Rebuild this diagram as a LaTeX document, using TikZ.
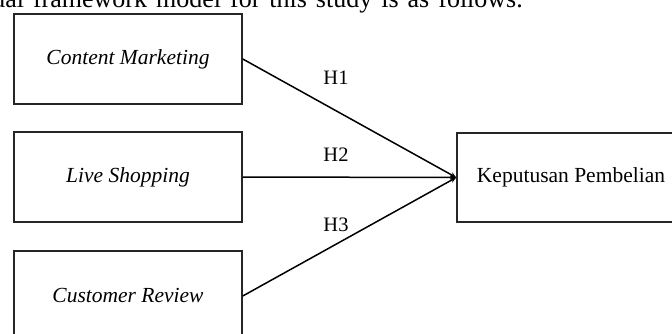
\documentclass[tikz,border=0pt]{standalone}
\usepackage{fontspec}
\setmainfont{Liberation Serif}
\usetikzlibrary{arrows.meta}
\begin{document}
\begin{tikzpicture}[x=1pt,y=-1pt,
  varbox/.style={draw=black!85, line width=1.5pt, minimum width=228pt, minimum height=90pt, inner sep=0pt, font=\fontsize{21.5}{24}\selectfont},
  link/.style={draw=black, line width=1.5pt, -{Stealth[length=6pt,width=5pt]}},
  hlabel/.style={font=\fontsize{20.5}{24}\selectfont, inner sep=0pt}]
\useasboundingbox (0,0) rectangle (672,334);
\clip (0,0) rectangle (672,334);
\fill[white] (0,0) rectangle (672,334);
\node[anchor=base east, inner sep=0pt, font=\fontsize{26}{30}\selectfont] (intro) at (523,7.5) {\spaceskip=9pt plus 0pt minus 0pt conceptual framework model for this study is as follows.};
\node[varbox] (cm) at (128,59) {\itshape Content Marketing};
\node[varbox] (ls) at (128,177) {\itshape Live Shopping};
\node[varbox] (cr) at (128,296) {\itshape Customer Review};
\node[varbox, minimum width=228pt, minimum height=89pt] (kp) at (571,177.5) {Keputusan Pembelian};
\draw[link] (cm.east) -- (kp.west);
\draw[link] (ls.east) -- (kp.west);
\draw[link] (cr.east) -- (kp.west);
\node[hlabel] (h1) at (336,78) {H1};
\node[hlabel] (h2) at (336,155) {H2};
\node[hlabel] (h3) at (336,225) {H3};
\end{tikzpicture}
\end{document}
